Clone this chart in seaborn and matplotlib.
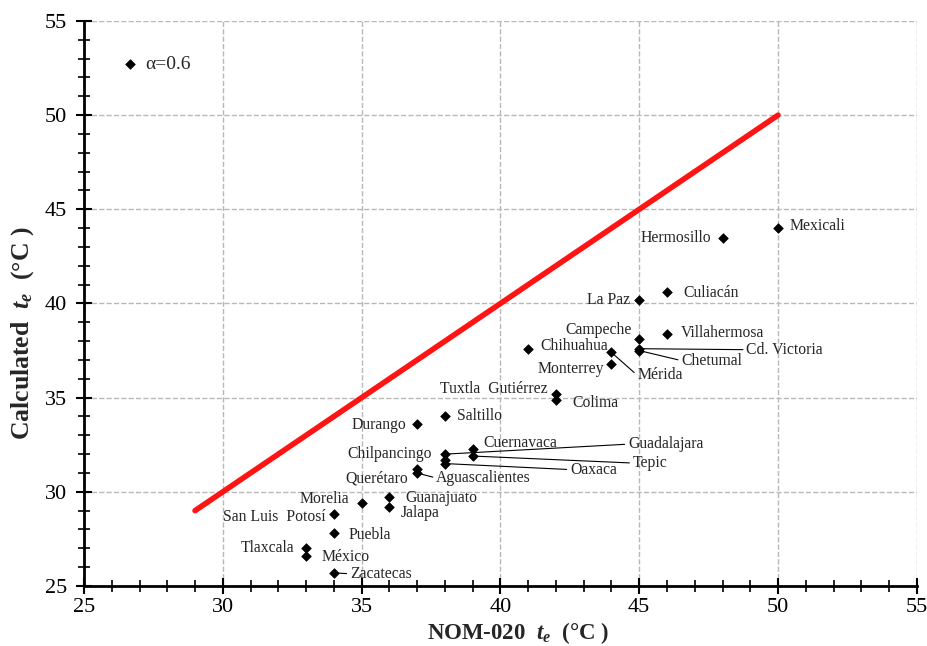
import numpy as np
import pandas as pd
import seaborn as sns
import matplotlib.pyplot as plt
from matplotlib.ticker import MultipleLocator

# --------------------------------------------------------------------------------------------
# Data
# --------------------------------------------------------------------------------------------
cities = ['Mexicali', 'Hermosillo', 'Culiacán', 'La Paz', 'Campeche', 'Villahermosa',
          'Cd. Victoria', 'Chetumal', 'Chihuahua', 'Mérida', 'Monterrey',
          'Tuxtla  Gutiérrez', 'Colima', 'Saltillo', 'Durango', 'Cuernavaca',
          'Guadalajara', 'Tepic', 'Oaxaca', 'Chilpancingo', 'Querétaro',
          'Aguascalientes', 'Morelia', 'Guanajuato', 'Jalapa', 'San Luis  Potosí',
          'Puebla', 'Tlaxcala', 'México', 'Zacatecas']
nom020 = [50, 48, 46, 45, 45, 46, 45, 45, 41, 44, 44, 42, 42, 38, 37, 39,
          38, 39, 38, 38, 37, 37, 35, 36, 36, 34, 34, 33, 33, 34]
calculated = [44.0, 43.5, 40.6, 40.2, 38.1, 38.4, 37.6, 37.5, 37.6, 37.4, 36.8,
              35.2, 34.9, 34.0, 33.6, 32.3, 32.0, 31.9, 31.5, 31.7, 31.2,
              31.0, 29.4, 29.7, 29.2, 28.8, 27.8, 27.0, 26.6, 25.7]
line_x = [29, 50]
line_y = [29, 50]

# label placement (offset in pixels, alignment, leader line)
label_pos = {
    'Mexicali': (12, 2, 'left', False), 'Hermosillo': (-11, 0, 'right', False),
    'Culiacán': (16, -1, 'left', False), 'La Paz': (-9, 0, 'right', False),
    'Campeche': (-7, 9, 'right', False), 'Villahermosa': (14, 1, 'left', False),
    'Cd. Victoria': (107, -1, 'left', True), 'Chetumal': (42, -10, 'left', True),
    'Chihuahua': (12, 3, 'left', False), 'Mérida': (26, -23, 'left', True),
    'Monterrey': (-7, -5, 'right', False), 'Tuxtla  Gutiérrez': (-8, 5, 'right', False),
    'Colima': (16, -3, 'left', False), 'Saltillo': (12, 0, 'left', False),
    'Durango': (-11, -1, 'right', False), 'Cuernavaca': (11, 6, 'left', False),
    'Guadalajara': (183, 10, 'left', True), 'Tepic': (160, -7, 'left', True),
    'Oaxaca': (125, -6, 'left', True), 'Chilpancingo': (-13, 6, 'right', False),
    'Querétaro': (-9, -9, 'right', False), 'Aguascalientes': (19, -5, 'left', True),
    'Morelia': (-12, 4, 'right', False), 'Guanajuato': (16, -1, 'left', False),
    'Jalapa': (11, -6, 'left', False), 'San Luis  Potosí': (-8, -3, 'right', False),
    'Puebla': (15, -2, 'left', False), 'Tlaxcala': (-12, 0, 'right', False),
    'México': (15, -1, 'left', False), 'Zacatecas': (16, -1, 'left', True),
}

df = pd.DataFrame({'City': cities, 'NOM': nom020, 'Calc': calculated})
line_df = pd.DataFrame({'x': line_x, 'y': line_y})

# --------------------------------------------------------------------------------------------
# Plot
# --------------------------------------------------------------------------------------------
sns.set_theme(style='ticks')
plt.rcParams['font.family'] = ['Liberation Serif', 'DejaVu Serif']
plt.rcParams['mathtext.fontset'] = 'custom'
plt.rcParams['mathtext.rm'] = 'Liberation Serif:bold'
plt.rcParams['mathtext.it'] = 'Liberation Serif:italic:bold'
plt.rcParams['mathtext.bf'] = 'Liberation Serif:bold'

fig = plt.figure(figsize=(9.28, 6.46), dpi=100)
ax = fig.add_axes([0.0905, 0.0929, 0.8975, 0.8746])

sns.lineplot(data=line_df, x='x', y='y', color='#ff1414', linewidth=4, ax=ax)
sns.scatterplot(data=df, x='NOM', y='Calc', marker='D', s=24, color='black',
                edgecolor='black', linewidth=0.5, label='α=0.6', ax=ax, zorder=5)

for _, row in df.iterrows():
    dx, dy, ha, leader = label_pos[row['City']]
    arrow = None
    if leader:
        arrow = dict(arrowstyle='-', color='black', lw=0.8, shrinkA=0, shrinkB=2,
                     relpos=(0, 0.5) if ha == 'left' else (1, 0.5))
    ax.annotate(row['City'], (row['NOM'], row['Calc']), xytext=(dx, dy),
                textcoords='offset pixels', ha=ha, va='center', fontsize=11.3,
                arrowprops=arrow)

ax.set_xlim(25, 55)
ax.set_ylim(25, 55)
ax.xaxis.set_major_locator(MultipleLocator(5))
ax.yaxis.set_major_locator(MultipleLocator(5))
ax.xaxis.set_minor_locator(MultipleLocator(1))
ax.yaxis.set_minor_locator(MultipleLocator(1))
ax.grid(True, which='major', linestyle='--', color='#b8b8b8', linewidth=1)
ax.set_axisbelow(True)

ax.spines['top'].set_visible(False)
ax.spines['right'].set_visible(False)
for side in ['left', 'bottom']:
    ax.spines[side].set_linewidth(2)
    ax.spines[side].set_color('black')
ax.tick_params(which='major', direction='inout', length=12, width=1.5, labelsize=16,
               colors='black', pad=6)
ax.tick_params(axis='x', which='major', pad=3)
ax.tick_params(which='minor', direction='inout', length=8, width=1.2, colors='black')

ax.set_xlabel(r'NOM-020  $t_e$  (°C )', fontsize=16.5, fontweight='bold')
ax.set_ylabel(r'Calculated  $t_e$  (°C )', fontsize=18.5, fontweight='bold')
ax.xaxis.set_label_coords(0.521, -0.061)
ax.yaxis.set_label_coords(-0.058, 0.448)

ax.legend(loc='upper left', frameon=False, fontsize=14, handletextpad=0.3,
          handlelength=1.0, bbox_to_anchor=(0.022, 0.97))

plt.savefig('out.png', dpi=100)
